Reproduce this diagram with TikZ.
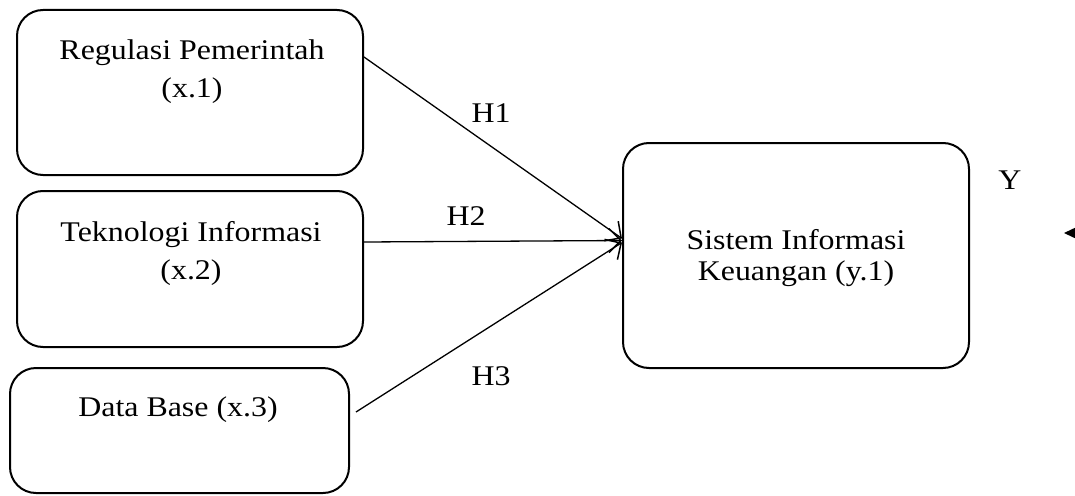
\documentclass[tikz,border=0pt]{standalone}
\usepackage{fontspec}
\setmainfont{Liberation Serif}[FakeStretch=1.12]
\usetikzlibrary{arrows.meta}
\begin{document}
\begin{tikzpicture}[x=1pt,y=1pt,
  box/.style={draw,line width=2pt,rounded corners=26pt,inner sep=0pt},
  lbl/.style={font=\fontsize{28.5}{38}\selectfont,align=center,inner sep=0pt},
  lblsm/.style={font=\fontsize{28.5}{31}\selectfont,align=center,inner sep=0pt},
  conn/.style={line width=1.3pt,arrows={-Straight Barb[length=12pt,width=24pt,line width=1.5pt]}},
  hyp/.style={font=\fontsize{28.5}{31}\selectfont,inner sep=0pt}]
\useasboundingbox (0,0) rectangle (1075,-495);
\node[box,minimum width=346pt,minimum height=165pt] (b1) at (190,-92.5) {};
\node[box,minimum width=346pt,minimum height=156pt] (b2) at (190,-269) {};
\node[box,minimum width=339pt,minimum height=125pt] (b3) at (179.5,-430.5) {};
\node[box,minimum width=346pt,minimum height=225pt] (by) at (796,-255.5) {};
\node[lbl] (t1) at (192,-72) {Regulasi Pemerintah\\(x.1)};
\node[lbl] (t2) at (191,-253) {Teknologi Informasi\\(x.2)};
\node[lbl] (t3) at (178,-410) {Data Base (x.3)};
\node[lblsm] (ty) at (796,-258) {Sistem Informasi\\Keuangan (y.1)};
\node[hyp] (h1) at (491,-113) {H1};
\node[hyp] (h2) at (466,-216) {H2};
\node[hyp] (h3) at (491,-376) {H3};
\node[hyp] (yl) at (1010,-180) {Y};
\draw[conn] ([yshift=-48pt]b1.north east) -- ([yshift=17pt]by.west);
\draw[conn] ([yshift=27pt]b2.east) -- ([yshift=15pt]by.west);
\draw[conn] ([xshift=6pt,yshift=18.5pt]b3.east) -- ([yshift=13pt]by.west);
\coordinate (ya) at (1064,-233);
\coordinate (yb) at (1095,-233);
\draw[line width=1.3pt,arrows={-Triangle[length=13pt,width=12pt]}] (yb) -- (ya);
\end{tikzpicture}
\end{document}
